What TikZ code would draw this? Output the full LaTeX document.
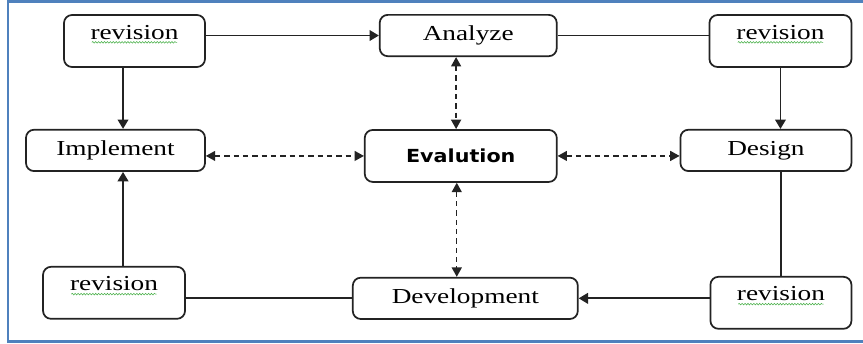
\documentclass[tikz,border=0pt]{standalone}
\usepackage{xcolor}
\usepackage{fontspec}
\setmainfont[FakeStretch=1.28]{Liberation Serif}
\newfontfamily\evalfont[FakeStretch=1.15]{DejaVu Sans}
\usepackage{tikz}
\usetikzlibrary{arrows.meta, positioning, decorations.pathmorphing}
\definecolor{FrameBlue}  {RGB}{79, 129, 189}
\definecolor{BoxLine}    {RGB}{35,  35,  35}
\definecolor{SpellGreen} {RGB}{70, 175,  70}

\begin{document}
\begin{tikzpicture}[
    x=0.75pt, y=-0.75pt,
    box/.style={draw=BoxLine, fill=white, line width=1.3pt, rounded corners=6pt, inner xsep=4pt, font=\fontsize{16}{19}\selectfont},
    revbox/.style={box, minimum width=105.75pt, text height=12pt, text depth=15pt, inner ysep=6pt},
    stagebox/.style={box, minimum height=31pt},
    arrow/.style={-{Triangle[length=7pt, width=8pt]}, line width=1.3pt, BoxLine},
    link/.style={line width=1.3pt, BoxLine},
    dasharrow/.style={{Triangle[length=7pt, width=7.5pt]}-{Triangle[length=7pt, width=7.5pt]}, line width=1pt, dash pattern=on 4pt off 3pt, BoxLine},
    squiggle/.style={SpellGreen, line width=0.4pt, decorate, decoration={snake, segment length=2.2pt, amplitude=0.6pt}},
    frame/.style={FrameBlue, line width=1.9pt}
]
    \useasboundingbox (0,0) rectangle (863,343);

    % Frame
    \draw[frame] (866,1.5) -- (8,1.5) -- (8,341.5) -- (866,341.5);

    % Nodes
    \node[revbox] (revTL) at (134.5,41) {revision};
    \node[stagebox, minimum width=132.75pt, right=129.75pt of revTL, yshift=4.1pt] (analyze) {Analyze};
    \node[revbox, minimum width=106.5pt, right=113.25pt of analyze, yshift=-4.1pt] (revTR) {revision};

    \node[stagebox, minimum width=134.25pt, below=45.75pt of revTL, xshift=-14.25pt] (implement) {Implement};
    \node[box, minimum width=144pt, minimum height=39pt, below=54pt of analyze, xshift=-5.6pt, font=\fontsize{13.5}{15}\evalfont\bfseries] (eval) {Evalution};
    \node[stagebox, minimum width=128.25pt, below=45.75pt of revTR, xshift=-10.9pt] (design) {Design};

    \node[revbox, minimum width=106.5pt, below=70.5pt of implement, xshift=-1.1pt] (revBL) {revision};
    \node[stagebox, minimum width=168.75pt, below=70.5pt of eval, xshift=3.4pt] (develop) {Development};
    \node[revbox, below=78pt of design, xshift=11.25pt] (revBR) {revision};

    % Spelling marks
    \foreach \n in {revTL, revTR, revBL, revBR}
        \draw[squiggle] ([xshift=-32pt, yshift=-2.5pt]\n.base) -- ([xshift=32pt, yshift=-2.5pt]\n.base);

    % Outer loop
    \draw[arrow] (revTL.east |- analyze.west) -- (analyze.west);
    \draw[link] (analyze.east) -- (analyze.east -| revTR.west);
    \draw[arrow] (revTR.south) -- (revTR.south |- design.north);
    \draw[link] (revBR.north |- design.south) -- (revBR.north);
    \draw[arrow] (revBR.west |- develop.east) -- (develop.east);
    \draw[link] (develop.west) -- (develop.west -| revBL.east);
    \draw[arrow] ([xshift=6.75pt]revBL.north) -- ([xshift=6.75pt]revBL.north |- implement.south);
    \draw[arrow] ([xshift=-8.6pt]revTL.south) -- ([xshift=-8.6pt]revTL.south |- implement.north);

    % Evaluation links
    \draw[dasharrow, transform canvas={xshift=-3.5pt}] (eval.north |- analyze.south) -- (eval.north);
    \draw[dasharrow, transform canvas={xshift=-3pt}] (eval.south) -- (eval.south |- develop.north);
    \draw[dasharrow] (implement.east |- eval.west) -- (eval.west);
    \draw[dasharrow] (eval.east) -- (eval.east -| design.west);

\end{tikzpicture}
\end{document}
